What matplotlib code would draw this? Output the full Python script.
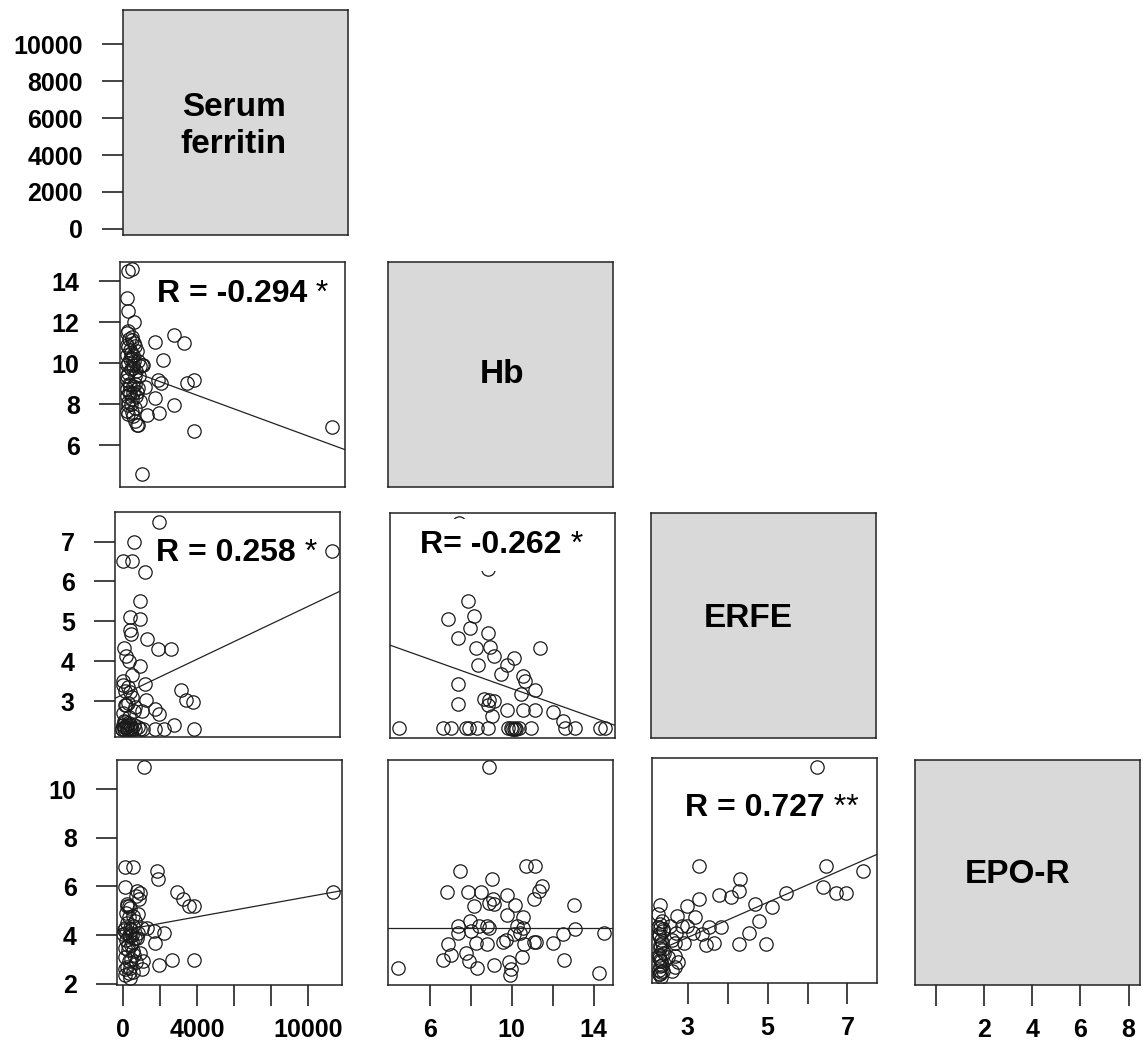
## Pairs plot: serum ferritin, Hb, ERFE, EPO-R (lower triangle with fits)
import numpy as np
import matplotlib.pyplot as plt

plt.rcParams['font.family'] = ['Liberation Sans', 'DejaVu Sans']
plt.rcParams['font.weight'] = 'bold'

## Data
var_names = ["Serum\nferritin", "Hb", "ERFE", "EPO-R"]

# Hb (y) vs serum ferritin (x)
ferr_hb_x = [122, 306, 30, 122, 448, 2570, 3114, 1574, 1993, 3298, 3658, 1700, 1900,
             1030, 1574, 2570, 1755, 1121, 3658, 842, 661, 480, 122, 752, 933, 11148,
             33, 306, 30, 213, 488, 30, 306, 670, 33, 397, 122, 488, 30, 213, 670, 33,
             397, 30, 306, 760, 122, 488, 33, 397, 580,
             150, 250, 400, 100, 250, 550, 150, 400, 200, 550, 100, 300, 600, 450, 850,
             80, 200, 350, 500, 150, 250, 60, 450, 320, 100, 700, 600]
ferr_hb_y = [14.49, 14.62, 13.19, 12.54, 12.0, 11.4, 10.99, 11.04, 10.18, 9.04, 9.2, 9.2, 9.05,
             8.83, 8.31, 7.95, 7.58, 7.47, 6.68, 4.57, 7.0, 7.16, 7.5, 9.85, 9.93, 6.88,
             11.48, 11.15, 10.91, 10.67, 10.83, 10.42, 10.26, 10.1, 9.93, 9.77, 9.53, 9.37, 9.2,
             8.96, 8.8, 8.72, 8.55, 8.39, 8.23, 8.15, 7.98, 7.82, 7.66, 7.41, 7.0,
             11.2, 10.5, 10.4, 10.0, 9.7, 9.6, 9.0, 8.9, 8.5, 8.4, 8.1, 7.6, 10.6, 11.0, 9.9,
             10.8, 10.2, 9.9, 9.0, 8.6, 8.0, 9.4, 10.1, 11.3, 11.6, 9.4, 8.6]

# ERFE (y) vs serum ferritin (x)
ferr_erfe_x = [2050, 689, 122, 578, 1313, 998, 508, 998, 508, 545, 1421, 2000, 2726, 140,
               286, 430, 1035, 613, 122, 213, 490, 1313, 3240, 3512, 3875, 1349, 394, 757,
               1120, 1857, 2038, 11420,
               213, 490, 757, 1030, 1210, 1846, 2298, 2842, 3930, 35, 150, 300, 400, 600,
               486, 250, 100, 350, 700, 900, 60,
               80, 350, 600, 200, 700,
               150, 320, 520, 180, 420, 250, 80]
ferr_erfe_y = [7.48, 7.0, 6.51, 6.51, 6.24, 5.51, 5.1, 5.05, 4.79, 4.67, 4.56, 4.31, 4.31, 4.33,
               4.12, 4.0, 3.87, 3.66, 3.41, 3.26, 3.22, 3.43, 3.28, 3.04, 2.98, 3.04, 2.94, 2.84,
               2.76, 2.8, 2.68, 6.77,
               2.48, 2.39, 2.31, 2.31, 2.31, 2.31, 2.31, 2.41, 2.31, 2.31, 2.31, 2.31, 2.31, 2.31,
               2.31, 2.35, 2.4, 2.45, 2.4, 2.35, 2.31,
               3.5, 3.35, 3.1, 2.9, 2.75,
               2.35, 2.4, 2.35, 2.5, 2.6, 2.9, 2.7]

# EPO-R (y) vs serum ferritin (x)
ferr_epor_x = [1157, 105, 524, 1828, 1864, 105, 740, 922, 2900, 3242, 3550, 3859, 213, 304,
               831, 304, 105, 559, 1013, 1285, 1648, 2192, 20, 377, 740, 1739, 105, 559, 922,
               304, 1104, 1920, 2646, 3823, 395, 1013, 105, 395, 11366,
               200, 450, 650, 300, 150, 500, 800, 250, 600, 100, 450, 700, 200, 550, 300,
               850, 700, 400, 150,
               50, 180, 350, 500, 650, 280, 120, 420, 200, 550]
ferr_epor_y = [10.9, 6.82, 6.82, 6.65, 6.31, 5.99, 5.83, 5.73, 5.79, 5.48, 5.21, 5.18, 5.27, 5.2,
               4.86, 4.73, 4.31, 4.38, 4.31, 4.31, 4.17, 4.1, 4.03, 3.96, 3.89, 3.69, 3.48, 3.34,
               3.27, 2.93, 2.93, 2.79, 2.96, 2.96, 2.66, 2.59, 2.38, 2.24, 5.79,
               4.5, 4.2, 4.6, 4.0, 3.8, 3.7, 4.1, 3.6, 3.2, 3.1, 3.0, 2.9, 2.7, 2.5, 2.45,
               5.5, 5.6, 5.1, 4.9,
               4.2, 4.1, 4.3, 4.0, 3.9, 3.4, 2.6, 3.6, 5.2, 4.8]

# ERFE (y) vs Hb (x)
hb_erfe_x = [7.34, 8.76, 7.78, 6.8, 8.04, 7.88, 7.29, 8.76, 8.16, 8.86, 9.02, 11.26, 10.03,
             9.68, 9.38, 8.27, 10.45, 10.56, 10.37, 11.05, 7.29, 7.29, 8.56, 8.81, 9.05, 8.73,
             9.68, 10.45, 11.05, 11.92, 12.41, 8.93,
             4.4, 6.52, 6.93, 7.67, 7.83, 8.21, 8.73, 9.71, 9.87, 10.07, 10.28, 10.85, 12.49,
             12.98, 14.2, 14.45, 9.9, 10.0, 10.1]
hb_erfe_y = [7.48, 6.34, 5.54, 5.08, 5.16, 4.85, 4.6, 4.72, 4.36, 4.38, 4.15, 4.35, 4.11,
             3.94, 3.71, 3.92, 3.65, 3.52, 3.2, 3.31, 3.46, 2.95, 3.09, 3.06, 3.02, 2.92,
             2.81, 2.81, 2.81, 2.75, 2.52, 2.64,
             2.35, 2.35, 2.35, 2.35, 2.35, 2.35, 2.35, 2.35, 2.35, 2.35, 2.35, 2.35, 2.35,
             2.35, 2.35, 2.35, 2.32, 2.32, 2.32]

# EPO-R (y) vs Hb (x)
hb_epor_x = [8.89, 4.43, 7.47, 6.82, 7.86, 8.49, 9.01, 9.76, 10.69, 11.13, 11.46, 11.34, 11.1,
             13.03, 8.16, 8.89, 9.14, 9.06, 10.15, 9.76, 10.53, 7.37, 7.37, 7.96, 8.0, 8.4,
             8.81, 8.89, 10.28, 10.53, 10.41, 13.09, 14.53, 12.49, 12.0, 6.88, 8.24, 8.81,
             9.55, 9.71, 10.12, 10.61, 11.1, 11.18, 6.66, 7.01, 7.75, 7.91, 8.29, 9.14, 9.87,
             9.96, 9.92, 10.48, 12.57, 14.28]
hb_epor_y = [10.9, 2.66, 6.65, 5.76, 5.76, 5.76, 6.31, 5.66, 6.86, 6.86, 6.03, 5.83, 5.48,
             5.25, 5.21, 5.34, 5.28, 5.48, 5.25, 4.83, 4.76, 4.38, 4.1, 4.59, 4.17, 4.38,
             4.38, 4.31, 4.38, 4.31, 4.1, 4.24, 4.1, 4.04, 3.69, 3.62, 3.69, 3.65,
             3.73, 3.79, 4.04, 3.62, 3.73, 3.73, 2.96, 3.18, 3.28, 2.94, 2.63, 2.76, 2.9,
             2.59, 2.36, 3.1, 2.96, 2.45]

# EPO-R (y) vs ERFE (x)
erfe_epor_x = [6.24, 3.28, 6.47, 7.4, 6.39, 6.72, 6.97, 5.46, 4.3, 4.27, 4.07, 3.78, 4.67, 5.1,
               2.31, 3.28, 2.98, 2.73, 3.18, 4.77, 4.52, 4.96, 4.27, 3.83, 3.53, 3.45, 3.66,
               2.85, 2.98, 3.14, 3.35, 2.68, 2.68, 2.68,
               2.3, 2.38, 2.27, 2.35, 2.3, 2.4, 2.27, 2.33, 2.3, 2.38, 2.28, 2.32,
               2.26, 2.34, 2.3, 2.37, 2.28, 2.33, 2.29, 2.36, 2.27, 2.31, 2.35, 2.28, 2.33,
               2.3, 2.26,
               2.55, 2.6, 2.7, 2.9, 2.5, 2.75, 2.6]
erfe_epor_y = [10.81, 6.74, 6.74, 6.54, 5.91, 5.67, 5.67, 5.67, 6.23, 5.74, 5.47, 5.58, 5.19, 5.08,
               5.16, 5.4, 5.12, 4.71, 4.67, 4.48, 4.02, 3.54, 3.57, 4.26, 4.26, 3.51, 3.6,
               4.3, 4.3, 4.02, 3.95, 3.6, 3.06, 2.6,
               4.37, 4.16, 3.95, 3.6, 3.4, 3.19, 2.99, 2.85, 2.64, 2.44, 2.3, 2.2,
               4.8, 4.5, 4.2, 4.1, 3.9, 3.7, 3.5, 3.3, 3.1, 2.9, 2.7, 2.5, 2.4,
               2.3, 4.25,
               4.3, 3.7, 4.0, 3.6, 3.0, 2.8, 2.45]

# fitted lines: (intercept, slope)
ferr_hb_fit = (9.71, -3.32e-4)
ferr_erfe_fit = (3.143, 2.204e-4)
ferr_epor_fit = (4.203, 1.374e-4)
hb_erfe_fit = (5.149, -0.1827)
hb_epor_fit = (4.31, 0.0)
erfe_epor_fit = (1.665, 0.72)

r_texts = ["R = -0.294", "R = 0.258", "R= -0.262", "R = 0.727"]
r_stars = ["*", "*", "*", "**"]

## Axis scales
ferr_lim = (-330, 11850)
hb_lim = (3.95, 14.95)
erfe_lim = (2.1, 7.74)
epor_lim = (1.95, 11.2)
epor_diag_lim = (-0.85, 8.47)

## Layout (pixels)
W, H = 1143, 1051
fig = plt.figure(figsize=(W / 100, H / 100), dpi=100)


def add_panel(left, top, w=225, h=225):
    return fig.add_axes([left / W, 1 - (top + h) / H, w / W, h / H])


def style(ax):
    for sp in ax.spines.values():
        sp.set_linewidth(1.1)
        sp.set_color('#222222')
    ax.tick_params(direction='out', length=15, width=1.2, labelsize=18,
                   color='#222222')
    ax.tick_params(axis='y', pad=14)
    ax.tick_params(axis='x', pad=9)
    ax.set_xticks([])
    ax.set_yticks([])


def diag(ax, label, fx, fy):
    style(ax)
    ax.set_facecolor('#d9d9d9')
    ax.text(fx, fy, label, transform=ax.transAxes, ha='center', va='center',
            fontsize=24, fontweight='bold', linespacing=1.25)


def scatter(ax, x, y, fit, xlim, ylim):
    style(ax)
    ax.plot(x, y, 'o', mfc='none', mec='#1a1a1a', ms=9.6, mew=0.9)
    a, b = fit
    ax.plot(xlim, [a + b * xlim[0], a + b * xlim[1]], color='#222222', lw=0.9)
    ax.set_xlim(xlim)
    ax.set_ylim(ylim)


def r_label(ax, fx, fy, text, star, pad=1):
    t = ax.text(fx, fy, text, transform=ax.transAxes, ha='left', va='top',
                fontsize=23, fontweight='bold', zorder=5,
                bbox=dict(fc='white', ec='none', pad=pad))
    ax.annotate(' ' + star, xy=(1, 0), xycoords=t, ha='left', va='bottom',
                fontsize=23, fontweight='normal', zorder=5)


# row 1
ax = add_panel(123, 10)
diag(ax, var_names[0], 0.493, 0.484)
ax.set_ylim(ferr_lim)
ax.set_yticks(range(0, 10001, 2000))

# row 2
ax = add_panel(120, 262)
scatter(ax, ferr_hb_x, ferr_hb_y, ferr_hb_fit, ferr_lim, hb_lim)
ax.set_yticks([6, 8, 10, 12, 14])
r_label(ax, 0.164, 0.924, r_texts[0], r_stars[0])

ax = add_panel(388, 262)
diag(ax, var_names[1], 0.507, 0.498)

# row 3
ax = add_panel(115, 512)
scatter(ax, ferr_erfe_x, ferr_erfe_y, ferr_erfe_fit, ferr_lim, erfe_lim)
ax.set_yticks([3, 4, 5, 6, 7])
r_label(ax, 0.183, 0.884, r_texts[1], r_stars[1])

ax = add_panel(390, 513)
scatter(ax, hb_erfe_x, hb_erfe_y, hb_erfe_fit, hb_lim, erfe_lim)
r_label(ax, 0.134, 0.924, r_texts[2], r_stars[2], pad=8)

ax = add_panel(651, 513)
diag(ax, var_names[2], 0.433, 0.529)

# row 4
ax = add_panel(117, 760)
scatter(ax, ferr_epor_x, ferr_epor_y, ferr_epor_fit, ferr_lim, epor_lim)
ax.set_yticks([2, 4, 6, 8, 10])
ax.set_xticks(range(0, 10001, 2000))
ax.set_xticklabels(['0', '', '4000', '', '', '10000'])

ax = add_panel(388, 760)
scatter(ax, hb_epor_x, hb_epor_y, hb_epor_fit, hb_lim, epor_lim)
ax.set_xticks([6, 8, 10, 12, 14])
ax.set_xticklabels(['6', '', '10', '', '14'])

ax = add_panel(652, 758)
scatter(ax, erfe_epor_x, erfe_epor_y, erfe_epor_fit, erfe_lim, epor_lim)
ax.set_xticks([3, 4, 5, 6, 7])
ax.set_xticklabels(['3', '', '5', '', '7'])
r_label(ax, 0.147, 0.844, r_texts[3], r_stars[3])

ax = add_panel(915, 760)
diag(ax, var_names[3], 0.456, 0.49)
ax.set_xlim(epor_diag_lim)
ax.set_xticks([0, 2, 4, 6, 8])
ax.set_xticklabels(['', '2', '4', '6', '8'])

fig.savefig('out.png', dpi=100)
